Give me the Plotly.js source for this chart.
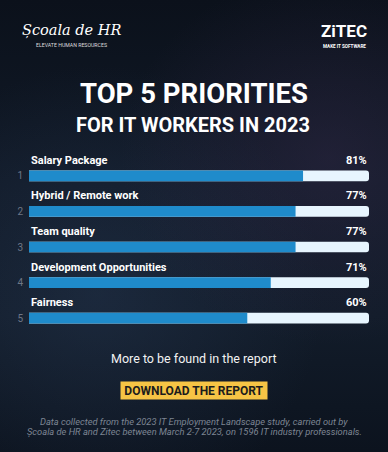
<!DOCTYPE html>
<html><head><meta charset="utf-8">
<script src="https://cdn.plot.ly/plotly-3.0.1.min.js"></script>
<style>
html,body{margin:0;padding:0;}
body{width:388px;height:452px;overflow:hidden;
background:
 radial-gradient(ellipse at 85% 35%, rgba(70,50,90,0.30) 0%, rgba(0,0,0,0) 45%),
 radial-gradient(ellipse at 25% 65%, rgba(45,65,95,0.35) 0%, rgba(0,0,0,0) 55%),
 linear-gradient(180deg,#0b111b 0%,#111a28 40%,#121c2a 70%,#0c131e 100%);}
#chart{width:388px;height:452px;}
</style></head>
<body><div id="chart"></div>
<script>
const categories = ["Salary Package","Hybrid / Remote work","Team quality","Development Opportunities","Fairness"];
const barLengths = [80.6, 78.4, 78.4, 71.1, 64.2];   // bar lengths as drawn in the picture
const percentLabels = ["81%","77%","77%","71%","60%"]; // printed values
const ranks = ["1","2","3","4","5"];
const fullScale = [100,100,100,100,100];

const W=388,H=452,L=29,R=19,T=158,B=116;
const PW=W-L-R, PH=H-T-B;
const px=x=>(x-L)/PW, py=y=>(H-B-y)/PH;
const pos = ranks.map((r,i)=>i+1);

const track = {type:'bar',orientation:'h',x:fullScale,y:pos,width:0.3,
  marker:{color:'#e7f5fe',line:{width:0}},hoverinfo:'skip'};
const bars = {type:'bar',orientation:'h',x:barLengths,y:pos,width:0.3,
  marker:{color:'#1f8bcb',line:{width:0}},hoverinfo:'skip'};

const ann=[];
categories.forEach((c,i)=>{
  ann.push({x:0,y:pos[i],xref:'x',yref:'y',xanchor:'left',yanchor:'middle',yshift:15.5,
    text:'<b>'+c+'</b>',showarrow:false,font:{family:'Roboto',size:11,color:'#ffffff'}});
  ann.push({x:100,y:pos[i],xref:'x',yref:'y',xanchor:'right',yanchor:'middle',yshift:15.5,
    text:'<b>'+percentLabels[i]+'</b>',showarrow:false,font:{family:'Roboto',size:11,color:'#ffffff'}});
});
const txt=(x,y,text,size,opts={})=>ann.push(Object.assign({x:px(x),y:py(y),xref:'paper',yref:'paper',
  xanchor:'center',yanchor:'middle',text:text,showarrow:false,
  font:{family:'Roboto',size:size,color:'#ffffff'}},opts));

txt(194,93,'<b>TOP 5 PRIORITIES</b>',27.5);
txt(193,125,'<b>FOR IT WORKERS IN 2023</b>',20);
txt(71,31,'<i>Școala de HR</i>',14.5,{font:{family:'DejaVu Serif',size:14.5,color:'#ffffff'}});
txt(71,45,'ELEVATE HUMAN RESOURCES',5.2,{font:{family:'Roboto',size:5.2,color:'#dddddd'}});
txt(344,31,'<b>ZiTEC</b>',17,{font:{family:'Roboto',size:17,color:'#ffffff'}});
txt(344,46,'<b>MAKE IT SOFTWARE</b>',4.6,{font:{family:'Roboto',size:4.6,color:'#ffffff'}});
txt(194,358,'More to be found in the report',12.5,{font:{family:'Roboto',size:12.5,color:'#f2f2f2'}});
txt(194,390,'<b>DOWNLOAD THE REPORT</b>',12,{font:{family:'Roboto',size:12,color:'#1c1c1c'},
  bgcolor:'#f6c445',width:146,height:17,borderpad:0});
txt(194,421,'<i>Data collected from the 2023 IT Employment Landscape study, carried out by</i>',9.3,{font:{family:'Roboto',size:9.3,color:'#7d8593'}});
txt(194,432,'<i>Școala de HR and Zitec between March 2-7 2023, on 1596 IT industry professionals.</i>',9.3,{font:{family:'Roboto',size:9.3,color:'#7d8593'}});

const layout={width:W,height:H,margin:{l:L,r:R,t:T,b:B,pad:0},
  paper_bgcolor:'rgba(0,0,0,0)',plot_bgcolor:'rgba(0,0,0,0)',
  barmode:'overlay',barcornerradius:3,showlegend:false,
  xaxis:{range:[0,100],visible:false,fixedrange:true},
  yaxis:{range:[5.5,0.5],tickvals:pos,ticktext:ranks,showgrid:false,zeroline:false,showline:false,
    ticks:'',ticklabelstandoff:5,tickfont:{family:'Roboto',size:10,color:'#6f7786'},fixedrange:true},
  annotations:ann};
Plotly.newPlot('chart',[track,bars],layout,{displayModeBar:false,staticPlot:true});
</script></body></html>
